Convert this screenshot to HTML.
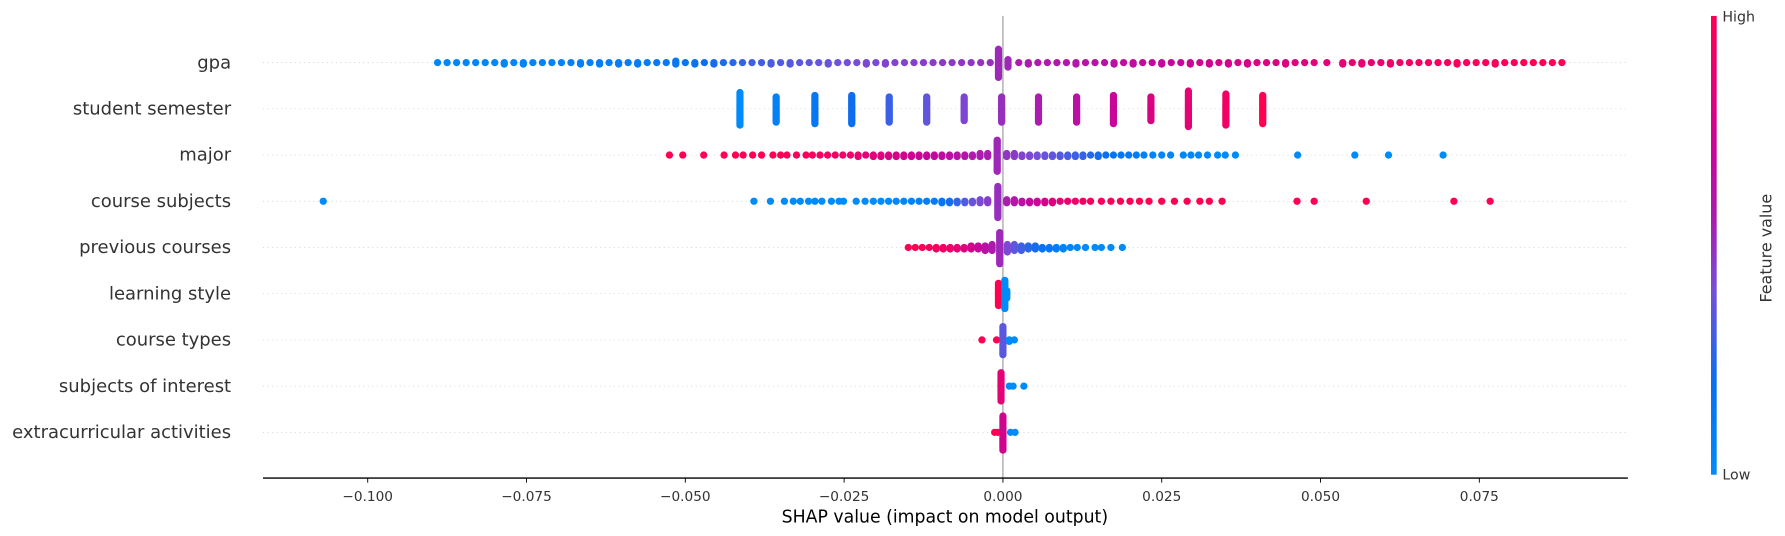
<!DOCTYPE html>
<html><head><meta charset="utf-8"><style>
html,body{margin:0;padding:0;background:#fff;}
svg{display:block;font-family:"DejaVu Sans","Liberation Sans",sans-serif;}
</style></head><body>
<svg id="chart" width="1785" height="536" viewBox="0 0 1568 470.85" xmlns="http://www.w3.org/2000/svg">
<defs>
<linearGradient id="cbar" x1="0" y1="1" x2="0" y2="0">
<stop offset="0" stop-color="#008bfb"/><stop offset="0.2" stop-color="#0a6ff0"/><stop offset="0.4" stop-color="#7450d8"/><stop offset="0.55" stop-color="#a81fb0"/><stop offset="0.7" stop-color="#c6069a"/><stop offset="1" stop-color="#ff0052"/>
</linearGradient>
</defs>
<g id="grid"></g>
<line x1="881" y1="14" x2="881" y2="420" stroke="#999" stroke-width="1"/>
<g id="dots"></g>
<line x1="231" y1="420" x2="1430" y2="420" stroke="#000" stroke-width="1.2"/>
<g id="xticks"></g>
<text x="830" y="459" font-size="15.2" text-anchor="middle" fill="#000">SHAP value (impact on model output)</text>
<g id="ylabels"></g>
<rect x="1503" y="14" width="5" height="403" fill="url(#cbar)"/>
<text x="1513" y="19" font-size="12.5" fill="#333">High</text>
<text x="1513" y="421" font-size="12.5" fill="#333">Low</text>
<text transform="translate(1556,218) rotate(-90)" font-size="14" text-anchor="middle" fill="#333">Feature value</text>
</svg>
<script>
const features = ["gpa","student semester","major","course subjects","previous courses","learning style","course types","subjects of interest","extracurricular activities"];
const xTicks = [-0.1,-0.075,-0.05,-0.025,0,0.025,0.05,0.075];
const xTickLabels = ["\u22120.100","\u22120.075","\u22120.050","\u22120.025","0.000","0.025","0.050","0.075"];

// SHAP values in units of 0.001, counts of stacked points, feature values (0..1)
const gpaShap = [-89,-87.5,-86,-84.5,-83,-81.5,-80,-78.5,-77,-75.5,-74,-72.5,-71,-69.5,-68,-66.5,-65,-63.5,-62,-60.5,-59,-57.5,-56,-54.5,-53,-51.5,-50,-48.5,-47,-45.5,-44,-42.5,-41,-39.5,-38,-36.5,-35,-33.5,-32,-30.5,-29,-27.5,-26,-24.5,-23,-21.5,-20,-18.5,-17,-15.5,-14,-12.5,-11,-9.5,-8,-6.5,-5,-3.5,-2,-0.7,0.8,2.5,4,5.5,7,8.5,10,11.5,13,14.5,16,17.5,19,20.5,22,23.5,25,26.5,28,29.5,31,32.5,34,35.5,37,38.5,40,41.5,43,44.5,46,47.5,49,51,53.5,55,56.5,58,59.5,61,62.5,64,65.5,67,68.5,70,71.5,73,74.5,76,77.5,79,80.5,82,83.5,85,86.5,88];
const gpaCount = [1,1,1,1,1,1,1,2,1,2,1,1,1,1,1,2,1,2,1,2,1,2,1,1,1,3,1,2,1,2,1,1,1,1,1,2,1,2,1,1,1,2,1,1,1,2,1,2,1,1,1,1,1,1,1,1,1,1,1,20,6,1,2,1,1,1,1,2,1,1,1,2,1,2,1,1,2,1,1,2,1,2,1,2,1,2,1,1,1,2,1,1,1,1,2,1,2,1,1,2,1,1,1,1,1,1,2,1,1,1,2,1,1,1,1,1,1,1];
const gpaFeat = [0.03,0.03,0.03,0.04,0.04,0.04,0.05,0.05,0.05,0.06,0.06,0.06,0.07,0.07,0.08,0.08,0.08,0.09,0.09,0.1,0.1,0.1,0.11,0.12,0.12,0.14,0.15,0.18,0.2,0.22,0.24,0.26,0.28,0.3,0.31,0.32,0.33,0.34,0.35,0.36,0.37,0.38,0.39,0.4,0.41,0.42,0.42,0.43,0.44,0.44,0.45,0.46,0.46,0.47,0.47,0.48,0.48,0.49,0.5,0.52,0.52,0.56,0.57,0.58,0.58,0.59,0.6,0.6,0.61,0.62,0.63,0.64,0.65,0.66,0.67,0.68,0.69,0.7,0.71,0.72,0.73,0.74,0.75,0.76,0.77,0.78,0.79,0.8,0.8,0.81,0.82,0.83,0.84,0.85,0.86,0.87,0.88,0.88,0.89,0.9,0.9,0.91,0.92,0.93,0.93,0.94,0.95,0.95,0.96,0.96,0.97,0.97,0.98,0.98,0.99,0.99,1,1];

const semShap = [-41.4,-35.7,-29.6,-23.8,-17.9,-12.0,-6.1,-0.2,5.6,11.6,17.4,23.3,29.2,35.1,40.9];
const semCount = [23,18,20,20,18,18,17,18,18,18,20,17,25,22,20];
const semFeat = [0,0.07,0.14,0.21,0.29,0.36,0.43,0.5,0.57,0.64,0.71,0.79,0.86,0.93,1];

const majorShap = [-52.5,-50.4,-47.1,-43.9,-42.1,-40.9,-39.4,-38,-36.2,-35,-34,-32.5,-31,-30,-28.8,-27.6,-26.4,-25.2,-24,-22.8,-21.6,-20.4,-19.2,-18,-16.8,-15.6,-14.4,-13.2,-12,-10.8,-9.6,-8.4,-7.2,-6,-4.8,-3.6,-2.4,-0.9,0.6,1.8,3,4.2,5.4,6.6,7.8,9,10.2,11.4,12.6,13.8,15,16.2,17.4,18.6,19.8,21,22.2,23.6,25,26.4,28.4,29.6,30.8,32.2,33.8,35,36.6,46.4,55.4,60.7,69.3];
const majorCount = [1,1,1,1,1,1,1,1,1,1,1,1,1,1,1,1,1,1,1,2,1,2,2,2,2,2,2,2,2,2,2,2,2,2,2,3,3,22,3,3,2,2,2,2,2,2,2,2,2,1,2,1,1,1,1,1,1,1,1,1,1,1,1,1,1,1,1,1,1,1,1];
const majorFeat = [1,1,1,1,1,1,1,1,1,1,0.98,0.97,0.96,0.95,0.94,0.93,0.92,0.91,0.9,0.88,0.86,0.84,0.82,0.8,0.78,0.76,0.74,0.72,0.7,0.68,0.66,0.64,0.62,0.6,0.58,0.56,0.55,0.52,0.48,0.46,0.44,0.42,0.4,0.38,0.36,0.34,0.32,0.3,0.28,0.25,0.22,0.2,0.18,0.15,0.12,0.1,0.08,0.06,0.05,0.04,0.03,0.03,0.02,0.02,0.01,0.01,0,0,0,0,0];

const csShap = [-107,-39.2,-36.6,-34.4,-33,-31.9,-30.6,-29.6,-28.5,-27,-25.8,-25.1,-23.1,-21.7,-20.4,-19.2,-18,-16.8,-15.6,-14.4,-13.2,-12,-10.8,-9.6,-8.4,-7.2,-6,-4.8,-3.6,-2.4,-0.8,0.6,1.8,3,4.2,5.4,6.6,7.8,9,10.2,11.4,12.6,13.8,15.5,17,18.5,20,21.5,23,25,27,29,31,32.5,34.5,46.3,49,57.2,71,76.7];
const csCount = [1,1,1,1,1,1,1,1,1,1,1,1,1,1,1,1,1,1,1,1,1,1,1,2,2,2,2,2,3,3,22,3,3,2,2,2,2,2,1,1,1,1,1,1,1,1,1,1,1,1,1,1,1,1,1,1,1,1,1,1];
const csFeat = [0,0,0,0,0,0,0,0,0,0,0,0,0,0,0,0,0.01,0.02,0.03,0.04,0.06,0.08,0.12,0.16,0.22,0.28,0.33,0.38,0.42,0.46,0.5,0.56,0.6,0.64,0.68,0.72,0.76,0.8,0.84,0.87,0.9,0.92,0.94,0.96,0.97,0.98,0.99,1,1,1,1,1,1,1,1,1,1,1,1,1];

const prevShap = [-14.9,-13.8,-12.7,-11.6,-10.5,-9.4,-8.3,-7.2,-6.1,-5,-3.9,-2.8,-1.7,-0.5,0.7,1.8,2.9,4,5.1,6.2,7.3,8.4,9.5,10.6,11.7,13,14.5,15.5,17,18.8];
const prevCount = [1,1,1,1,2,2,2,2,2,3,3,4,5,22,6,5,4,3,3,2,2,2,2,1,1,1,1,1,1,1];
const prevFeat = [1,1,0.98,0.96,0.94,0.92,0.9,0.86,0.82,0.76,0.7,0.64,0.58,0.52,0.42,0.36,0.3,0.26,0.22,0.18,0.14,0.1,0.06,0.04,0.02,0.01,0,0,0,0];

const lsShap = [-0.7,0.3,0.6];
const lsCount = [16,20,6];
const lsFeat = [1,0,0];

const ctShap = [-3.3,-1,0,1,1.8];
const ctCount = [1,1,20,2,1];
const ctFeat = [1,1,0.35,0,0];

const soiShap = [-0.3,1,1.6,3.3];
const soiCount = [20,1,1,1];
const soiFeat = [0.85,0,0,0];

const ecShap = [-1.3,-0.8,0,1.2,1.9];
const ecCount = [1,1,24,1,1];
const ecFeat = [1,1,0.75,0,0];

const rowShap = [gpaShap,semShap,majorShap,csShap,prevShap,lsShap,ctShap,soiShap,ecShap];
const rowCount = [gpaCount,semCount,majorCount,csCount,prevCount,lsCount,ctCount,soiCount,ecCount];
const rowFeat = [gpaFeat,semFeat,majorFeat,csFeat,prevFeat,lsFeat,ctFeat,soiFeat,ecFeat];

const NS = "http://www.w3.org/2000/svg";
const x0 = 881, pxPerUnit = 5580;
function xScale(v){ return x0 + v*pxPerUnit; }
function yRow(i){ return 55 + i*40.6; }
const stops = [[0,[0,139,251]],[0.2,[10,111,240]],[0.4,[116,80,216]],[0.55,[168,31,176]],[0.7,[198,6,154]],[1,[255,0,82]]];
function color(t){
  t=Math.max(0,Math.min(1,t));
  for(let i=1;i<stops.length;i++){
    if(t<=stops[i][0]){
      const a=stops[i-1],b=stops[i],f=(t-a[0])/(b[0]-a[0]);
      const c=a[1].map((v,k)=>Math.round(v+(b[1][k]-v)*f));
      return `rgb(${c[0]},${c[1]},${c[2]})`;
    }
  }
  return "rgb(255,0,82)";
}
const grid=document.getElementById('grid'), dots=document.getElementById('dots'), yl=document.getElementById('ylabels'), xt=document.getElementById('xticks');
features.forEach((name,i)=>{
  const y=yRow(i);
  const g=document.createElementNS(NS,'line');
  
  
  g.setAttribute('x1',231);g.setAttribute('x2',1430);g.setAttribute('y1',y);g.setAttribute('y2',y);
  g.setAttribute('stroke','#ccc');g.setAttribute('stroke-width','0.6');g.setAttribute('stroke-dasharray','1,3');
  grid.appendChild(g);
  const t=document.createElementNS(NS,'text');
  
  
  t.setAttribute('x',203);t.setAttribute('y',y+5);t.setAttribute('text-anchor','end');t.setAttribute('font-size','15.8');t.setAttribute('fill','#333');
  t.textContent=name;
  yl.appendChild(t);
  const sh=rowShap[i], cn=rowCount[i], fv=rowFeat[i];
  for(let j=0;j<sh.length;j++){
    const cx=xScale(sh[j]/1000);
    for(let k=0;k<cn[j];k++){
      const off=(k%2?1:-1)*Math.ceil(k/2)*1.3;
      const c=document.createElementNS(NS,'circle');
      
      
      c.setAttribute('cx',cx.toFixed(2));c.setAttribute('cy',(y+off).toFixed(2));c.setAttribute('r',3.2);
      c.setAttribute('fill',color(fv[j]));
      dots.appendChild(c);
    }
  }
});
xTicks.forEach((v,i)=>{
  const x=xScale(v);
  const l=document.createElementNS(NS,'line');
  
  
  l.setAttribute('x1',x);l.setAttribute('x2',x);l.setAttribute('y1',420);l.setAttribute('y2',424);l.setAttribute('stroke','#000');l.setAttribute('stroke-width','0.8');
  xt.appendChild(l);
  const t=document.createElementNS(NS,'text');
  
  
  t.setAttribute('x',x);t.setAttribute('y',440);t.setAttribute('text-anchor','middle');t.setAttribute('font-size','12');t.setAttribute('fill','#333');
  t.textContent=xTickLabels[i];
  xt.appendChild(t);
});
</script>
</body></html>
